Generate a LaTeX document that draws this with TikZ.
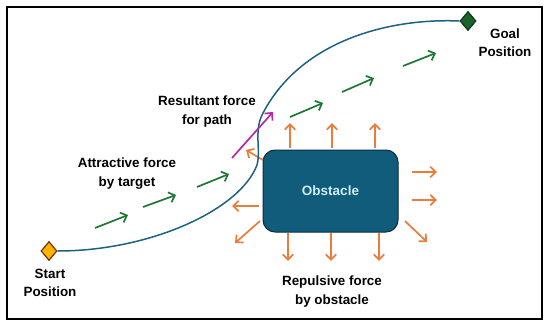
\documentclass[tikz,border=0pt]{standalone}
\usepackage{fontspec}
\setmainfont{Liberation Sans}
\usetikzlibrary{arrows.meta,shapes.geometric}
\definecolor{pathblue}{RGB}{28,98,130}
\definecolor{obsfill}{RGB}{16,92,122}
\definecolor{obsline}{RGB}{12,45,60}
\definecolor{obstext}{RGB}{205,236,245}
\definecolor{forceorange}{RGB}{235,125,60}
\definecolor{forcegreen}{RGB}{30,120,50}
\definecolor{resmagenta}{RGB}{175,45,160}
\definecolor{startfill}{RGB}{255,180,0}
\definecolor{startline}{RGB}{110,50,20}
\definecolor{goalfill}{RGB}{25,100,45}
\definecolor{goalline}{RGB}{15,55,25}
\tikzset{
  lbl/.style={font=\fontsize{13.4}{18.5}\selectfont\bfseries, align=center, text=black},
  force/.style={line width=1.7pt, -{Straight Barb[length=5.5pt,width=10.5pt,line width=1.7pt]}},
  rep/.style={force, draw=forceorange},
  att/.style={force, draw=forcegreen},
  marker/.style={diamond, minimum width=16pt, minimum height=19pt, inner sep=0pt, line width=1.2pt}
}
\begin{document}
\begin{tikzpicture}[x=1pt,y=-1pt]
\useasboundingbox (0,0) rectangle (550,327);
\fill[white] (0,0) rectangle (550,327);
\draw[line width=2pt] (7,7) rectangle (542,319);

% obstacle
\node[draw=obsline, fill=obsfill, line width=1pt, rounded corners=12pt,
  minimum width=135pt, minimum height=82pt, inner sep=0pt,
  font=\fontsize{13.5}{16}\selectfont\bfseries, text=obstext] (obs) at (330.5,191) {Obstacle};

% repulsive forces
\draw[rep] (290,148) -- (290,123);
\draw[rep] (332,148) -- (332,123);
\draw[rep] (375,148) -- (375,123);
\draw[rep] (288,233) -- (288,261);
\draw[rep] (331,233) -- (331,261);
\draw[rep] (379,233) -- (379,261);
\draw[rep] (412,172) -- (437,172);
\draw[rep] (412,200) -- (437,200);
\draw[rep] (405,221) -- (427,242);
\draw[rep] (259,206) -- (232,206);
\draw[rep] (260,221) -- (235,243);
\draw[rep] (263,160) -- (246,150);

% markers
\node[marker, fill=startfill, draw=startline] (start) at (49,251) {};
\node[marker, fill=goalfill, draw=goalline] (goal) at (468,21) {};

% path
\draw[pathblue, line width=1.5pt] (start.east)
  .. controls (150,251) and (240,210) .. (257,165)
  .. controls (261,150) and (254,132) .. (262,115)
  .. controls (300,40) and (390,18) .. (goal.west);

% attractive forces
\draw[att] (95,228) -- (128,215);
\draw[att] (143,207) -- (176,195);
\draw[att] (197,187) -- (229,174);
\draw[att] (290,117) -- (323,103);
\draw[att] (342,92) -- (374,78);
\draw[att] (403,66) -- (436,53);

% resultant
\draw[force, draw=resmagenta] (232,158) -- (273,112);

% labels
\node[lbl] (startlbl) at (50,283) {Start\\Position};
\node[lbl] (goallbl) at (505,42.5) {Goal\\Position};
\node[lbl] (reslbl) at (207,111.5) {Resultant force\\for path};
\node[lbl] (attlbl) at (127,173.5) {Attractive force\\by target};
\node[lbl] (replbl) at (332,291.5) {Repulsive force\\by obstacle};
\end{tikzpicture}
\end{document}
